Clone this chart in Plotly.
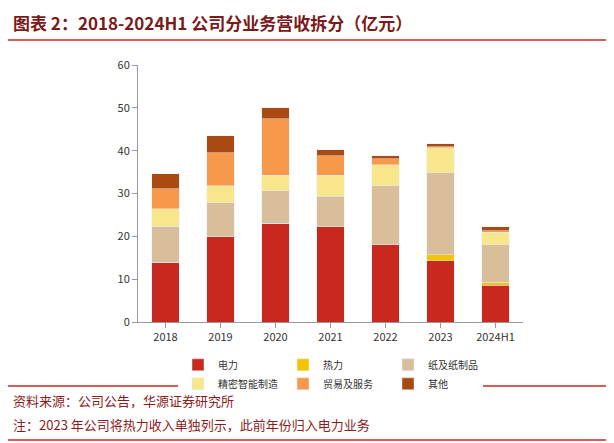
import plotly.graph_objects as go

years = ["2018","2019","2020","2021","2022","2023","2024H1"]
names = ["电力","热力","纸及纸制品","精密智能制造","贸易及服务","其他"]
colors = ["#C8281E","#F5C400","#D8BE9A","#F8E68C","#F7994A","#A94A12"]
dianli = [14.0,19.9,23.1,22.2,18.0,14.3,8.6]
reli = [0,0,0,0,0,1.4,0.7]
zhi = [8.4,7.9,7.5,7.2,13.8,19.1,8.7]
jingmi = [4.0,4.0,3.7,4.9,4.9,5.9,3.0]
maoyi = [4.7,7.7,13.1,4.5,1.4,0.2,0.3]
qita = [3.5,4.0,2.6,1.4,0.7,0.7,0.9]
series = [dianli,reli,zhi,jingmi,maoyi,qita]

fig = go.Figure()
for n,c,v in zip(names,colors,series):
    fig.add_bar(x=years,y=v,name=n,marker_color=c,width=0.5)
fig.update_layout(
    barmode="stack",width=614,height=443,plot_bgcolor="white",paper_bgcolor="white",
    margin=dict(l=130,r=99,t=57,b=129,autoexpand=False),
    font=dict(family="Noto Sans CJK SC",size=11,color="#333"),
    xaxis=dict(showline=True,linecolor="#999",ticks="outside",tickcolor="#999"),
    yaxis=dict(range=[0,60],dtick=10,showline=True,linecolor="#999",ticks="outside",tickcolor="#999",showgrid=False),
    legend=dict(orientation="h",traceorder="normal",x=0.5,xanchor="center",y=-0.11,yanchor="top",
                font=dict(size=10),itemwidth=30,entrywidth=0,tracegroupgap=0),
    shapes=[
        dict(type="line",xref="paper",yref="paper",x0=-0.34,x1=1.26,y0=1.0+25/257,y1=1.0+25/257,line=dict(color="#C8281E",width=1.5)),
        dict(type="line",xref="paper",yref="paper",x0=-0.34,x1=1.26,y0=-64/257,y1=-64/257,line=dict(color="#C8281E",width=1.5)),
        dict(type="line",xref="paper",yref="paper",x0=-0.34,x1=1.26,y0=-118/257,y1=-118/257,line=dict(color="#C8281E",width=1.5)),
    ],
    annotations=[
        dict(text="<b>图表 2：2018-2024H1 公司分业务营收拆分（亿元）</b>",xref="paper",yref="paper",x=-0.33,y=1.0+28/257,xanchor="left",yanchor="bottom",showarrow=False,font=dict(size=17,color="#7A1A1A")),
        dict(text="资料来源：公司公告，华源证券研究所",xref="paper",yref="paper",x=-0.33,y=-78/257,xanchor="left",yanchor="middle",showarrow=False,font=dict(size=13,color="#8B1C1C")),
        dict(text="注：2023 年公司将热力收入单独列示，此前年份归入电力业务",xref="paper",yref="paper",x=-0.33,y=-102/257,xanchor="left",yanchor="middle",showarrow=False,font=dict(size=13,color="#8B1C1C")),
    ],
)
fig.write_html("out.html")
